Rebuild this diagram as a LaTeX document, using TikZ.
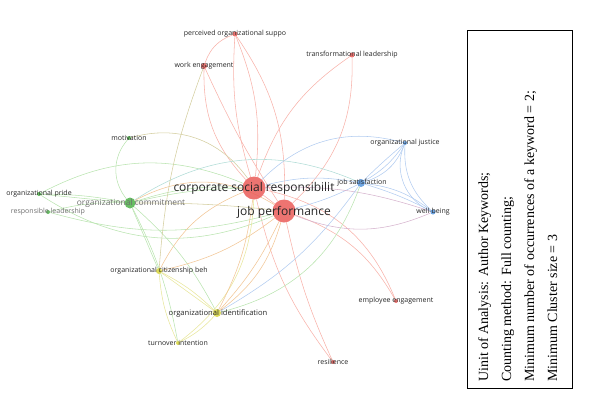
\documentclass[tikz,border=0pt]{standalone}
\usepackage{fontspec}
\setmainfont{Open Sans}
\newfontfamily\boxfont{Liberation Serif}
\usetikzlibrary{backgrounds}
\definecolor{nred}{RGB}{234,92,88}
\definecolor{ngreen}{RGB}{76,178,72}
\definecolor{nblue}{RGB}{86,150,222}
\definecolor{nyellow}{RGB}{214,212,60}
\definecolor{ered}{RGB}{248,178,170}
\definecolor{egreen}{RGB}{186,228,176}
\definecolor{eblue}{RGB}{178,204,240}
\definecolor{eyel}{RGB}{232,230,156}
\definecolor{eora}{RGB}{242,198,150}
\definecolor{eteal}{RGB}{176,220,214}
\definecolor{epurp}{RGB}{214,180,206}
\definecolor{eolive}{RGB}{212,206,160}
\definecolor{labgray}{RGB}{110,110,110}
\begin{document}
\begin{tikzpicture}[x=1pt,y=-1pt,
  dot/.style={circle,inner sep=0pt,minimum size=#1,fill opacity=0.85},
  lab/.style={font=\fontsize{7}{8}\selectfont,text=black!85,inner sep=0pt},
  big/.style={font=\fontsize{12}{14}\selectfont,text=black!85,inner sep=0pt},
  re/.style={draw=ered,line width=0.55pt},
  ge/.style={draw=egreen,line width=0.55pt},
  be/.style={draw=eblue,line width=0.55pt},
  ye/.style={draw=eyel,line width=0.55pt},
  oe/.style={draw=eora,line width=0.55pt},
  te/.style={draw=eteal,line width=0.55pt},
  pe/.style={draw=epurp,line width=0.55pt},
  le/.style={draw=eolive,line width=0.55pt}]
\useasboundingbox (0,0) rectangle (594,399);
% nodes
\node[dot=23pt,fill=nred] (csr) at (254,188) {};
\node[dot=23pt,fill=nred] (jp) at (284,211) {};
\node[dot=8pt,fill=nblue] (js) at (361,183) {};
\node[dot=5pt,fill=nblue] (wb) at (433,212) {};
\node[dot=4pt,fill=nblue] (oj) at (405,143) {};
\node[dot=11pt,fill=ngreen] (oc) at (130,203) {};
\node[dot=4pt,fill=ngreen] (mot) at (129,138) {};
\node[dot=4pt,fill=ngreen] (op) at (39,194) {};
\node[dot=4pt,fill=ngreen] (rl) at (48,212) {};
\node[dot=5pt,fill=nred] (pos) at (235,34) {};
\node[dot=6pt,fill=nred] (we) at (204,66) {};
\node[dot=5pt,fill=nred] (tl) at (352,55) {};
\node[dot=6pt,fill=nyellow] (ocb) at (159,271) {};
\node[dot=8pt,fill=nyellow] (oi) at (217,313) {};
\node[dot=4pt,fill=nyellow] (ti) at (178,343) {};
\node[dot=4pt,fill=nred] (ee) at (396,301) {};
\node[dot=4pt,fill=nred] (res) at (333,362) {};
% edges
\begin{pgfonlayer}{background}
\draw[re] (csr) -- (jp);
\draw[re] (pos) to[bend right=10] (csr);
\draw[re] (pos) to[bend left=18] (jp);
\draw[re] (pos) to[bend left=14] (csr);
\draw[re] (we) to[bend left=25] (pos);
\draw[re] (we) to[bend right=22] (csr);
\draw[re] (we) to[bend right=4] (jp);
\draw[re] (tl) to[bend right=18] (csr);
\draw[re] (tl) to[bend left=24] (jp);
\draw[re] (csr) to[bend left=28] (ee);
\draw[re] (jp) to[bend left=20] (ee);
\draw[re] (csr) to[bend right=12] (res);
\draw[re] (jp) to[bend right=6] (res);
\draw[be] (js) to[bend right=25] (oj);
\draw[be] (js) to[bend right=12] (oj);
\draw[be] (js) to[bend left=2] (oj);
\draw[be] (js) to[bend left=15] (wb);
\draw[be] (js) to[bend left=5] (wb);
\draw[be] (csr) to[bend left=12] (js);
\draw[be] (jp) to[bend right=6] (js);
\draw[be] (csr) to[bend left=30] (oj);
\draw[pe] (jp) to[bend right=22] (wb);
\draw[pe] (csr) to[bend left=10] (wb);
\draw[be] (oj) to[bend right=45] (wb);
\draw[be] (oj) to[bend right=25] (wb);
\draw[be] (js) to[bend left=12] (oi);
\draw[ge] (mot) to[bend right=40] (oc);
\draw[le] (mot) to[bend left=35] (csr);
\draw[ge] (op) -- (oc);
\draw[ge] (op) to[bend left=5] (oc);
\draw[ge] (rl) to[bend left=8] (oc);
\draw[ge] (op) to[bend left=25] (csr);
\draw[ge] (rl) to[bend right=15] (jp);
\draw[ge] (op) to[bend right=28] (jp);
\draw[ge] (oc) to[bend left=10] (csr);
\draw[ge] (oc) to[bend left=6] (csr);
\draw[le] (oc) to[bend left=3] (jp);
\draw[te] (oc) to[bend left=28] (js);
\draw[ge] (oc) to[bend left=10] (oi);
\draw[ge] (oc) -- (ocb);
\draw[ge] (oc) to[bend left=8] (ti);
\draw[ge] (oi) to[bend right=28] (js);
\draw[ye] (ocb) -- (oi);
\draw[ye] (ocb) to[bend left=8] (oi);
\draw[ye] (ti) to[bend left=10] (ocb);
\draw[ye] (ti) to[bend right=10] (oi);
\draw[ye] (ti) to[bend right=25] (csr);
\draw[oe] (ocb) to[bend left=20] (csr);
\draw[oe] (ocb) to[bend right=12] (jp);
\draw[oe] (oi) to[bend right=10] (csr);
\draw[oe] (oi) to[bend right=18] (jp);
\draw[oe] (oi) to[bend right=8] (jp);
\draw[oe] (oc) to[bend left=30] (jp);
\draw[le] (we) to[bend right=8] (ocb);
\end{pgfonlayer}
% labels
\node[big] (csrl) at (254,188) {corporate social responsibilit};
\node[big] (jpl) at (284,212) {job performance};
\node[lab] (jsl) at (362,183) {job satisfaction};
\node[lab] (wbl) at (433,212) {well-being};
\node[lab] (ojl) at (405,143) {organizational justice};
\node[lab,font=\fontsize{8.4}{10}\selectfont,text=labgray] (ocl) at (131,203) {organizational commitment};
\node[lab] (motl) at (129,138) {motivation};
\node[lab] (opl) at (39,194) {organizational pride};
\node[lab,text=labgray] (rll) at (48,212) {responsible leadership};
\node[lab] (posl) at (235,34) {perceived organizational suppo};
\node[lab] (wel) at (204,66) {work engagement};
\node[lab] (tll) at (352,55) {transformational leadership};
\node[lab] (ocbl) at (159,271) {organizational citizenship beh};
\node[lab,font=\fontsize{7.6}{9}\selectfont] (oil) at (218,313) {organizational identification};
\node[lab] (til) at (178,343) {turnover intention};
\node[lab] (eel) at (396,301) {employee engagement};
\node[lab] (resl) at (333,362) {resilience};
% legend box
\draw[line width=0.8pt] (467,30) rectangle (572,388);
\node[rotate=90,anchor=north west,align=left,inner sep=0pt,font=\boxfont\fontsize{14}{23}\selectfont] (legend) at (478,382)
 {Uinit of Analysis: Author Keywords;\\ Counting method: Full counting;\\ Minimum number of occurrences of a keyword = 2;\\ Minimum Cluster size = 3};
\end{tikzpicture}
\end{document}
